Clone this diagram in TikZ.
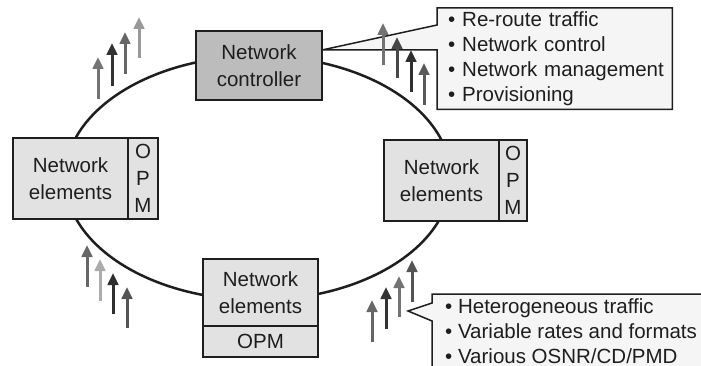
\documentclass[tikz,border=0pt]{standalone}
\usepackage{fontspec}
\setmainfont{Liberation Sans}
\usepackage{tikz}
\usetikzlibrary{arrows.meta,positioning,backgrounds}

\definecolor{ctrlgray}{HTML}{BCBCBC}
\definecolor{elemgray}{HTML}{E2E2E2}
\definecolor{notegray}{HTML}{F5F5F5}
\definecolor{inkgray}{HTML}{1E1E1E}

\begin{document}
\begin{tikzpicture}[x=1pt, y=-1pt,
    box/.style={draw=inkgray, line width=2pt, outer sep=0pt, inner sep=0pt,
        align=center, text=inkgray, font=\fontsize{20.5}{27}\selectfont},
    ctrlbox/.style={box, fill=ctrlgray},
    elembox/.style={box, fill=elemgray},
    notes/.style={align=left, text=inkgray, inner ysep=0pt,
        font=\fontsize{20.5}{25}\selectfont},
    balloon/.style={draw=inkgray, line width=1.5pt, fill=notegray},
    ring/.style={line width=2.5pt, inkgray},
    flow/.style={line width=3pt, -{Triangle[length=12pt,width=10.5pt]}}]

    \useasboundingbox (0,0) rectangle (701,366);
    \clip (0,0) rectangle (701,366);

    % Ring
    \draw[ring] (258,178) ellipse [x radius=193pt, y radius=122pt];

    % Network controller
    \node[ctrlbox, minimum width=126pt, minimum height=69pt] (ctrl) at (259,65.5) {Network\\controller};

    % Network elements with OPM
    \node[elembox, minimum width=115pt, minimum height=81pt] (ne-left) at (70.5,178.5) {Network\\elements};
    \node[elembox, minimum width=30pt, minimum height=81pt, right=0pt of ne-left] (opm-left) {O\\P\\M};

    \node[elembox, minimum width=115pt, minimum height=81pt] (ne-right) at (441.5,180.5) {Network\\elements};
    \node[elembox, minimum width=28pt, minimum height=81pt, right=0pt of ne-right] (opm-right) {O\\P\\M};

    \node[elembox, minimum width=115pt, minimum height=67pt] (ne-bottom) at (260.5,292.5) {Network\\elements};
    \node[elembox, minimum width=115pt, minimum height=31pt, below=0pt of ne-bottom] (opm-bottom) {OPM};

    % Callouts
    \node[notes, anchor=north west, text width=213pt, minimum height=101pt, inner xsep=11pt] (tasks) at (437,8)
        {\mbox{\textbullet\ Re-route traffic}\\ \mbox{\textbullet\ Network control}\\
         \mbox{\textbullet\ Network management}\\ \mbox{\textbullet\ Provisioning}};
    \node[notes, anchor=west, inner xsep=13pt] (traffic) at (432,331)
        {\textbullet\ Heterogeneous traffic\\ \textbullet\ Variable rates and formats\\ \textbullet\ Various OSNR/CD/PMD};
    \coordinate (traffic-tip) at (408,311);

    \begin{scope}[on background layer]
        \filldraw[balloon] (tasks.north west) -- (tasks.north east) -- (tasks.south east) -- (tasks.south west)
            -- (tasks.west |- 0,50) -- (ctrl.east |- 0,50) -- (tasks.west |- 0,25) -- cycle;
        \filldraw[balloon] (traffic.west |- 0,294) -- (706,294) -- (706,372) -- (traffic.west |- 0,372)
            -- (traffic.west |- 0,321) -- (traffic-tip) -- (traffic.west |- 0,303) -- cycle;
    \end{scope}

    % Traffic arrows
    \foreach \x/\ya/\yb/\shade in {98/99/57/55, 112/86/43/80, 125/74/32/60, 139/58/17/40,
        383/65/23/55, 397/78/37/72, 411/92/50/82, 424/105/63/65,
        87/287/245/60, 100/301/259/33, 113/314/273/82, 127/328/287/67,
        372/342/300/60, 386/329/287/80, 399/317/276/55, 412/302/260/67}
        \draw[flow, black!\shade] (\x,\ya) -- (\x,\yb);
\end{tikzpicture}
\end{document}
